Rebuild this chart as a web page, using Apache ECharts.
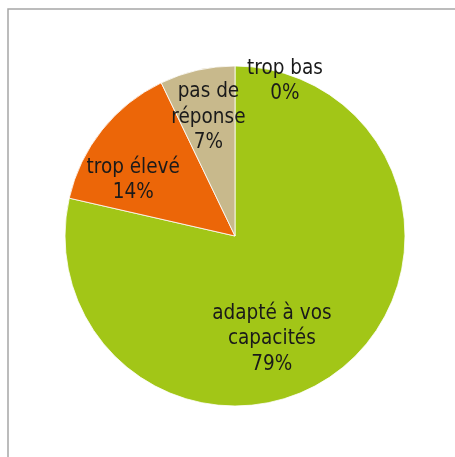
<!DOCTYPE html>
<html>
<head>
<meta charset="utf-8">
<script src="https://cdn.jsdelivr.net/npm/echarts@6/dist/echarts.min.js"></script>
<style>
html,body{margin:0;padding:0;background:#fff;}
#c{width:455px;height:457px;}
</style>
</head>
<body>
<div id="c"></div>
<script>
// Data
const categories = ['trop bas', 'adapté à vos\ncapacités', 'trop élevé', 'pas de\nréponse'];
const values = [0, 11, 2, 1];
const percentLabels = ['0%', '79%', '14%', '7%'];
const colors = ['#7f7f7f', '#a2c617', '#ec6608', '#c8b98c'];
// label offsets (layout only)
const labelShift = [[50, -67], [-18, 34], [-33, -1], [-7, -33]];

const chart = echarts.init(document.getElementById('c'), null, {renderer: 'canvas'});
const data = categories.map((n, i) => ({
  name: n,
  value: values[i],
  itemStyle: {color: colors[i]},
  label: {formatter: n + '\n' + percentLabels[i]}
}));
chart.setOption({
  animation: false,
  backgroundColor: '#fff',
  graphic: [{
    type: 'rect',
    shape: {x: 8, y: 9, width: 470, height: 470},
    style: {fill: 'none', stroke: '#a6a6a6', lineWidth: 1.5},
    silent: true
  }],
  series: [{
    type: 'pie',
    center: [235, 236],
    radius: [0, 170],
    startAngle: 90,
    clockwise: true,
    minShowLabelAngle: 0,
    stillShowZeroSum: true,
    data: data,
    itemStyle: {borderColor: '#ffffff', borderWidth: 0.8},
    label: {
      show: true,
      position: 'inside',
      color: '#1a1a1a',
      fontFamily: '"DejaVu Sans Condensed", sans-serif',
      fontSize: 20.5,
      lineHeight: 25.5,
      align: 'center'
    },
    labelLine: {show: false},
    labelLayout: function (p) {
      const s = labelShift[p.dataIndex];
      return {dx: s[0], dy: s[1]};
    },
    emphasis: {disabled: true}
  }]
});
</script>
</body>
</html>
